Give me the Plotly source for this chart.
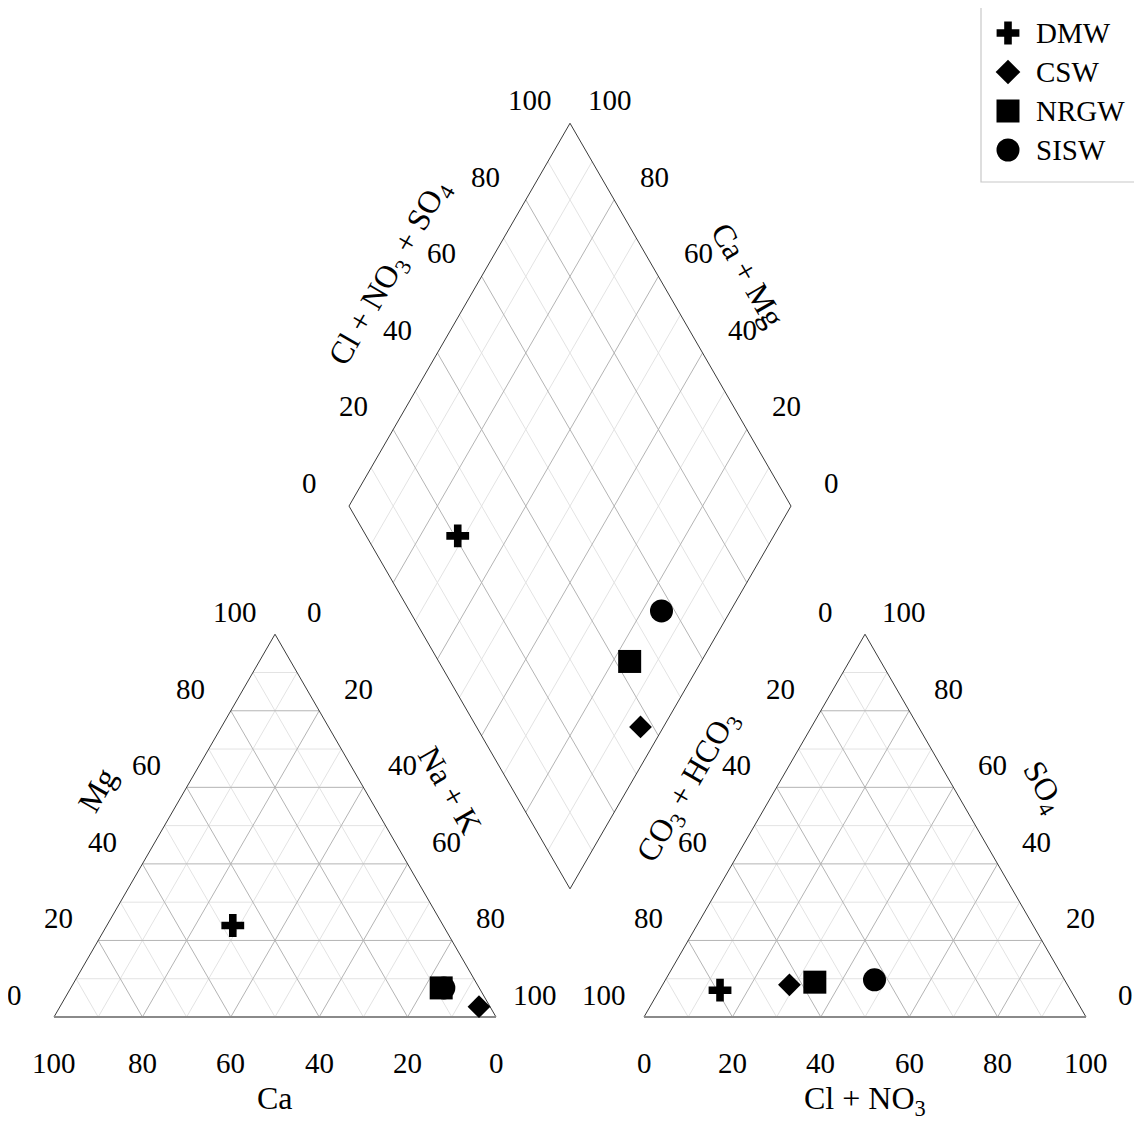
import numpy as np
import plotly.graph_objects as go

# ---------------- data (percent of meq) ----------------
samples = ["DMW", "CSW", "NRGW", "SISW"]
symbols = ["cross", "diamond", "square", "circle"]
ca = [47.6, 2.5, 8.6, 8.0]
mg = [23.9, 2.7, 7.6, 7.6]
na_k = [28.5, 94.8, 83.8, 84.4]
hco3 = [79.3, 62.9, 56.8, 43.0]
cl_no3 = [13.7, 28.7, 34.1, 47.3]
so4 = [7.0, 8.4, 9.1, 9.7]
tick_vals = [0, 20, 40, 60, 80, 100]

# ---------------- geometry (layout) ----------------
W = 442.0
H = W * np.sqrt(3) / 2
Y0 = 1017.0
XL = 54.0            # left triangle, bottom-left vertex
XR = 644.0           # right triangle, bottom-left vertex
GAP = XR - (XL + W)
XD = XL + W + GAP / 2  # diamond bottom vertex x
YD = Y0 - GAP * np.sqrt(3) / 2

FONT = "Liberation Serif"
TICK_SIZE = 29
TITLE_SIZE = 32
LEGEND_SIZE = 29
PAGE_OFF = 8  # default body margin of the html page


def tri(x0, a_right, a_top):
    a_right = np.asarray(a_right, float)
    a_top = np.asarray(a_top, float)
    return x0 + W * (a_right + a_top / 2), Y0 - H * a_top


def dia(s, c):
    s = np.asarray(s, float)
    c = np.asarray(c, float)
    return XD + (W / 2) * (s - c), YD - H * (s + c)


fig = go.Figure()


def add_segments(segs, color, width):
    xs, ys = [], []
    for (xa, ya), (xb, yb) in segs:
        xs += [float(xa), float(xb), None]
        ys += [float(ya), float(yb), None]
    fig.add_trace(go.Scatter(x=xs, y=ys, mode="lines", hoverinfo="skip",
                             line=dict(color=color, width=width), showlegend=False))


levels = [k / 10 for k in range(1, 10)]
minor = [f for i, f in enumerate(levels) if (i + 1) % 2 == 1]
major = [f for i, f in enumerate(levels) if (i + 1) % 2 == 0]


def tri_grid(x0, fs):
    segs = []
    for f in fs:
        segs.append((tri(x0, 0, f), tri(x0, 1 - f, f)))
        segs.append((tri(x0, f, 0), tri(x0, f, 1 - f)))
        segs.append((tri(x0, 0, 1 - f), tri(x0, 1 - f, 0)))
    return segs


def dia_grid(fs):
    segs = []
    for f in fs:
        segs.append((dia(f, 0), dia(f, 1)))
        segs.append((dia(0, f), dia(1, f)))
    return segs


for fs, col in [(minor, "#e3e3e3"), (major, "#b4b4b4")]:
    add_segments(tri_grid(XL, fs) + tri_grid(XR, fs) + dia_grid(fs), col, 1)

# outlines
outline = []
for x0 in (XL, XR):
    outline.append((tri(x0, 0, 0), tri(x0, 0, 1)))
    outline.append((tri(x0, 1, 0), tri(x0, 0, 1)))
outline += [(dia(0, 0), dia(1, 0)), (dia(1, 0), dia(1, 1)),
            (dia(1, 1), dia(0, 1)), (dia(0, 1), dia(0, 0))]
add_segments(outline, "#3a3a3a", 1)
add_segments([(tri(XL, 0, 0), tri(XL, 1, 0)), (tri(XR, 0, 0), tri(XR, 1, 0))], "#8a8a8a", 2.2)

# ---------------- data points ----------------
sizes = {"cross": 19, "diamond": 17.5, "square": 23, "circle": 23}
for i, name in enumerate(samples):
    cx, cy = tri(XL, na_k[i] / 100, mg[i] / 100)
    ax, ay = tri(XR, cl_no3[i] / 100, so4[i] / 100)
    s = (cl_no3[i] + so4[i]) / 100
    c = (ca[i] + mg[i]) / 100
    dx, dy = dia(s, c)
    fig.add_trace(go.Scatter(x=[float(cx), float(ax), float(dx)],
                             y=[float(cy), float(ay), float(dy)], mode="markers",
                             name=name, showlegend=False,
                             marker=dict(symbol=symbols[i], size=sizes[symbols[i]],
                                         color="black", line=dict(width=0))))

# ---------------- tick labels ----------------
ann = []


def label(x, y, text, size=TICK_SIZE, angle=0):
    ann.append(dict(x=float(x), y=float(y), text=text, showarrow=False, textangle=angle,
                    xanchor="center", yanchor="middle",
                    font=dict(family=FONT, size=size, color="black")))


OFF_L = (-40, -22)
OFF_R = (39, -22)
for v in tick_vals:
    f = v / 100
    # left triangle
    x, _ = tri(XL, 1 - f, 0); label(x, 1063, str(v))                     # Ca
    x, y = tri(XL, 0, f); label(x + OFF_L[0], y + OFF_L[1], str(v))       # Mg
    x, y = tri(XL, f, 1 - f); label(x + OFF_R[0], y + OFF_R[1], str(v))   # Na+K
    # right triangle
    x, _ = tri(XR, f, 0); label(x, 1063, str(v))                          # Cl+NO3
    x, y = tri(XR, 1 - f, f); label(x + OFF_R[0], y + OFF_R[1], str(v))   # SO4
    x, y = tri(XR, 0, 1 - f); label(x + OFF_L[0], y + OFF_L[1], str(v))   # CO3+HCO3
    # diamond
    x, y = dia(f, 1); label(x - 40, y - 23, str(v))                       # Cl+NO3+SO4
    x, y = dia(1, f); label(x + 40, y - 23, str(v))                       # Ca+Mg

# ---------------- axis titles ----------------
label(XL + W / 2, 1098, "Ca", TITLE_SIZE)
label(XR + W / 2, 1100, "Cl + NO<sub>3</sub>", TITLE_SIZE)
label(97, 790, "Mg", TITLE_SIZE, -60)
label(450, 790, "Na + K", TITLE_SIZE, 60)
label(688, 787, "CO<sub>3</sub> + HCO<sub>3</sub>", TITLE_SIZE, -60)
label(1043, 787, "SO<sub>4</sub>", TITLE_SIZE, 60)
label(390, 273, "Cl + NO<sub>3</sub> + SO<sub>4</sub>", TITLE_SIZE, -60)
label(748, 275, "Ca + Mg", TITLE_SIZE, 60)

# ---------------- legend (drawn) ----------------
leg_y = [33, 72, 111, 150]
for i, name in enumerate(samples):
    fig.add_trace(go.Scatter(x=[1008], y=[leg_y[i]], mode="markers", showlegend=False,
                             hoverinfo="skip",
                             marker=dict(symbol=symbols[i],
                                         size=19 if symbols[i] in ("cross", "diamond") else 23,
                                         color="black", line=dict(width=0))))
    ann.append(dict(x=1034, y=leg_y[i], text=name, showarrow=False, xanchor="left",
                    yanchor="middle", font=dict(family=FONT, size=LEGEND_SIZE, color="black")))

shapes = [dict(type="rect", x0=981, x1=1140, y0=0, y1=182,
               line=dict(color="#c8c8c8", width=1.2), fillcolor="rgba(0,0,0,0)")]

fig.update_layout(
    width=1142 - PAGE_OFF, height=1123 - PAGE_OFF, margin=dict(l=0, r=0, t=0, b=0),
    paper_bgcolor="white", plot_bgcolor="white",
    xaxis=dict(range=[PAGE_OFF, 1142], visible=False, fixedrange=True),
    yaxis=dict(range=[1123, PAGE_OFF], visible=False, fixedrange=True),
    annotations=ann, shapes=shapes, showlegend=False,
)

fig.write_html("out.html")
